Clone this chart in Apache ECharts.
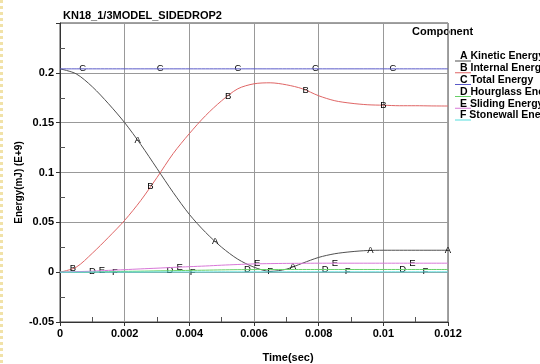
<!DOCTYPE html>
<html>
<head>
<meta charset="utf-8">
<script src="https://cdn.jsdelivr.net/npm/echarts@6/dist/echarts.min.js"></script>
<style>
  html, body { margin: 0; padding: 0; background: #fff; }
  #chart { width: 540px; height: 364px; }
</style>
</head>
<body>
<div id="chart"></div>
<script>
// time axis (sec)
const times = [0, 0.0005, 0.001, 0.0015, 0.002, 0.0025, 0.003, 0.0035, 0.004, 0.0045, 0.005,
  0.0055, 0.006, 0.0065, 0.007, 0.0075, 0.008, 0.0085, 0.009, 0.0095, 0.01, 0.0105, 0.011, 0.0115, 0.012];

// energy values (mJ, E+9)
const kinetic   = [0.204, 0.199, 0.186, 0.169, 0.150, 0.128, 0.104, 0.080, 0.058, 0.040, 0.025,
  0.013, 0.005, 0.0008, 0.003, 0.009, 0.0148, 0.0185, 0.0205, 0.0217, 0.022, 0.022, 0.022, 0.022, 0.022];
const internal  = [0, 0.005, 0.019, 0.035, 0.052, 0.072, 0.095, 0.119, 0.139, 0.157, 0.172,
  0.184, 0.189, 0.190, 0.188, 0.184, 0.177, 0.172, 0.1695, 0.168, 0.1675, 0.167, 0.167, 0.1668, 0.1667];
const total     = [0.204, 0.204, 0.204, 0.204, 0.204, 0.204, 0.204, 0.204, 0.204, 0.204, 0.204,
  0.204, 0.204, 0.204, 0.204, 0.204, 0.204, 0.204, 0.204, 0.204, 0.204, 0.204, 0.204, 0.204, 0.204];
const hourglass = [0, 0.0001, 0.0003, 0.0005, 0.0008, 0.001, 0.0013, 0.0015, 0.0018, 0.002, 0.0023,
  0.0025, 0.0026, 0.0027, 0.0027, 0.0027, 0.0027, 0.0027, 0.0027, 0.0027, 0.0027, 0.0027, 0.0027, 0.0027, 0.0027];
const sliding   = [0, 0.0005, 0.001, 0.0018, 0.0025, 0.0033, 0.004, 0.0048, 0.0055, 0.0062, 0.007,
  0.0077, 0.0083, 0.0086, 0.0088, 0.0089, 0.009, 0.009, 0.009, 0.009, 0.009, 0.009, 0.009, 0.009, 0.009];
const stonewall = [0, 0, 0.0001, 0.0001, 0.0001, 0.0001, 0.0002, 0.0002, 0.0002, 0.0002, 0.0003,
  0.0003, 0.0003, 0.0003, 0.0003, 0.0003, 0.0003, 0.0003, 0.0003, 0.0003, 0.0003, 0.0003, 0.0003, 0.0003, 0.0003];

const letters = ['A', 'B', 'C', 'D', 'E', 'F'];
const names = ['Kinetic Energy', 'Internal Energy', 'Total Energy', 'Hourglass Energy', 'Sliding Energy', 'Stonewall Energy'];
const colors = ['#505050', '#e06666', '#5a5ac8', '#66d066', '#d878d8', '#55dede'];
const values = [kinetic, internal, total, hourglass, sliding, stonewall];

// times where the curve letters sit (every 0.0024 s, each series shifted)
const labelStart = [0.0024, 0.0004, 0.0007, 0.001, 0.0013, 0.0017];
const labelStep = 0.0024;

const yTicks = ['-0.05', '0', '0.05', '0.1', '0.15', '0.2'];
const xTicks = ['0', '0.002', '0.004', '0.006', '0.008', '0.01', '0.012'];

// linear lookup in a series, used to put the letters on the curves
function valueAt(arr, t) {
  for (let i = 0; i < times.length - 1; i++) {
    if (t >= times[i] && t <= times[i + 1]) {
      const f = (t - times[i]) / (times[i + 1] - times[i]);
      return arr[i] + f * (arr[i + 1] - arr[i]);
    }
  }
  return arr[arr.length - 1];
}

const font = 'Liberation Sans, Arial, sans-serif';

const series = values.map((arr, s) => {
  const marks = [];
  for (let t = labelStart[s]; t <= 0.01201; t += labelStep) {
    marks.push({ coord: [t, valueAt(arr, t)], value: letters[s] });
  }
  return {
    name: names[s],
    type: 'line',
    data: arr.map((v, i) => [times[i], v]),
    smooth: 0.3,
    symbol: 'none',
    lineStyle: { width: 1, color: colors[s] },
    itemStyle: { color: colors[s] },
    z: 3 + s,
    markPoint: {
      symbol: 'circle',
      symbolSize: 0,
      label: {
        show: true,
        formatter: letters[s],
        color: '#000',
        fontSize: 9.5,
        fontFamily: font,
        position: 'inside'
      },
      data: marks
    }
  };
});

const chart = echarts.init(document.getElementById('chart'));

chart.setOption({
  backgroundColor: '#fff',
  animation: false,
  textStyle: { fontFamily: font },
  title: {
    text: 'KN18_1/3MODEL_SIDEDROP2',
    left: 58,
    top: 5,
    textStyle: { fontSize: 11, fontWeight: 'bold', color: '#000', fontFamily: font }
  },
  grid: {
    left: 60, right: 92, top: 23, bottom: 42,
    outerBoundsMode: 'none',
    show: true, borderColor: '#444', borderWidth: 1
  },
  legend: {
    orient: 'vertical',
    left: 455,
    top: 51,
    padding: 0,
    itemGap: 0.8,
    itemWidth: 16,
    itemHeight: 10,
    // tiny anchor at the top-left keeps the underline at the bottom of the box
    icon: 'path://M0,0 L0.01,0 L0.01,0.01 Z M0,9 L16,9 L16,10 L0,10 Z',
    data: names,
    formatter: n => letters[names.indexOf(n)] + ' ' + n,
    textStyle: { fontSize: 10.5, fontWeight: 'bold', color: '#000', lineHeight: 10, padding: [0, 0, 0, -16] }
  },
  xAxis: {
    type: 'value',
    min: 0, max: 0.012, interval: 0.002,
    name: 'Time(sec)',
    nameLocation: 'middle',
    nameGap: 30,
    nameMoveOverlap: false,
    nameTextStyle: { fontSize: 11, fontWeight: 'bold', color: '#000', padding: [0, 0, 0, 68] },
    axisLine: { onZero: false, lineStyle: { color: '#333' } },
    axisTick: { show: true, length: 4, lineStyle: { color: '#333' } },
    minorTick: { show: true, splitNumber: 2, length: -5, lineStyle: { color: '#555' } },
    axisLabel: {
      fontSize: 11, fontWeight: 'bold', color: '#000', margin: 6,
      formatter: v => xTicks.find(s => Math.abs(parseFloat(s) - v) < 1e-9) || ''
    },
    splitLine: { show: true, lineStyle: { color: '#999' } }
  },
  yAxis: {
    type: 'value',
    min: -0.05, max: 0.25, interval: 0.05,
    name: 'Energy(mJ) (E+9)',
    nameLocation: 'middle',
    nameGap: 36,
    nameMoveOverlap: false,
    nameTextStyle: { fontSize: 10, fontWeight: 'bold', color: '#000', padding: [0, 20, 0, 0] },
    axisLine: { show: true, onZero: false, lineStyle: { color: '#333' } },
    axisTick: { show: true, length: 4, lineStyle: { color: '#333' } },
    minorTick: { show: true, splitNumber: 2, length: -5, lineStyle: { color: '#555' } },
    axisLabel: {
      fontSize: 11, fontWeight: 'bold', color: '#000', margin: 6,
      formatter: v => yTicks.find(s => Math.abs(parseFloat(s) - v) < 1e-9) || ''
    },
    splitLine: { show: true, lineStyle: { color: '#999' } }
  },
  graphic: [
    {
      type: 'text', left: 412, top: 26,
      style: { text: 'Component', font: 'bold 11px ' + font, fill: '#000' }
    },
    {
      type: 'line', shape: { x1: 1.5, y1: 0, x2: 1.5, y2: 364 },
      style: { stroke: '#f1e2a8', lineWidth: 3, lineDash: [3, 3] }
    }
  ],
  series: series
});
</script>
</body>
</html>
